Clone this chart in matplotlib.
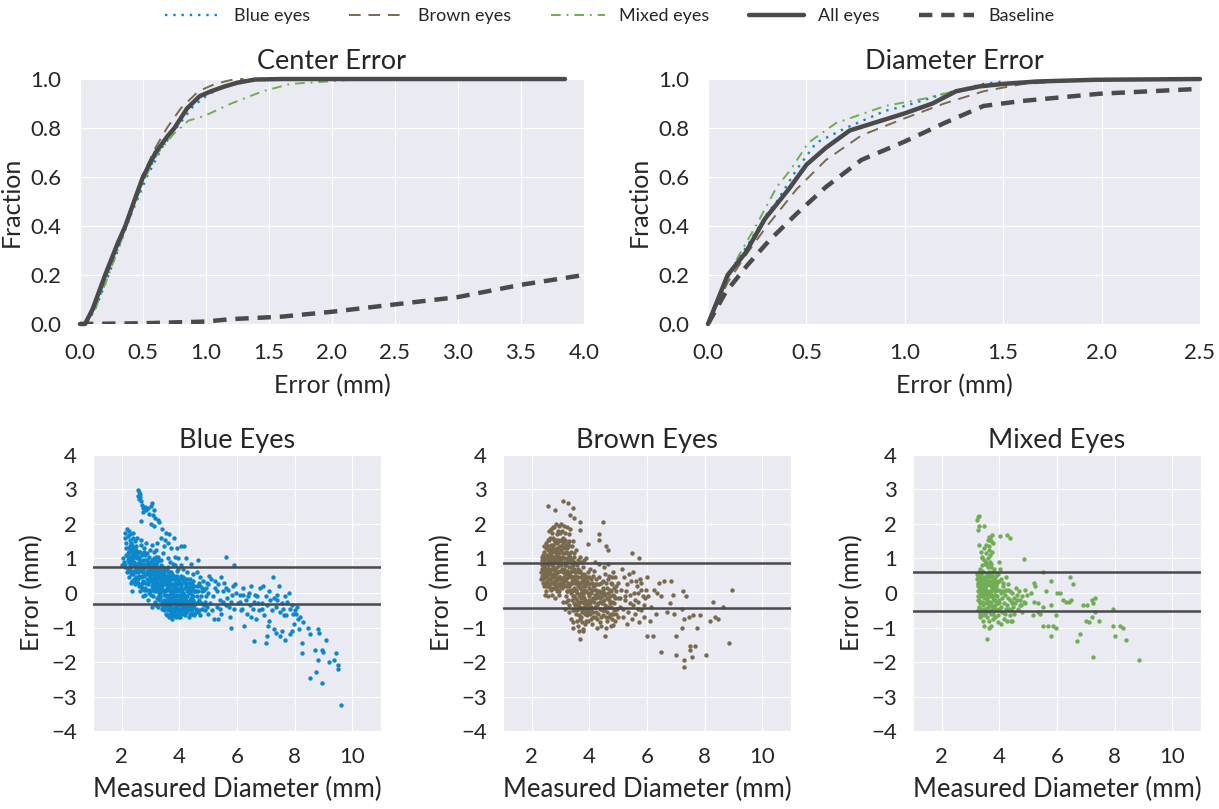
"""Eye tracking error: CDFs of center / diameter error and Bland-Altman style scatter per eye colour.
"""
import numpy as np
import matplotlib
matplotlib.use('Agg')
import matplotlib.pyplot as plt
import seaborn as sns

# cumulative curves, center error
center_all_x = [0.0, 0.04, 0.1, 0.2, 0.3, 0.36, 0.45, 0.5, 0.6, 0.7, 0.75, 0.85, 0.95, 1.04, 1.15, 1.25, 1.39, 1.6, 3.85]
center_all_y = [0.0, 0.0, 0.06, 0.2, 0.33, 0.4, 0.53, 0.6, 0.7, 0.77, 0.8, 0.88, 0.93, 0.95, 0.97, 0.985, 0.998, 1.0, 1.0]
center_blue_x = [0.0, 0.05, 0.12, 0.22, 0.32, 0.4, 0.53, 0.65, 0.78, 0.9, 1.0, 1.1, 1.25, 1.4, 1.6]
center_blue_y = [0.0, 0.0, 0.06, 0.19, 0.33, 0.44, 0.6, 0.72, 0.81, 0.89, 0.93, 0.96, 0.985, 0.997, 1.0]
center_brown_x = [0.0, 0.05, 0.12, 0.22, 0.32, 0.4, 0.5, 0.6, 0.69, 0.8, 0.94, 1.05, 1.15, 1.23, 1.3]
center_brown_y = [0.0, 0.0, 0.07, 0.21, 0.35, 0.46, 0.61, 0.72, 0.8, 0.88, 0.95, 0.975, 0.99, 1.0, 1.0]
center_mixed_x = [0.0, 0.05, 0.12, 0.22, 0.32, 0.4, 0.5, 0.62, 0.75, 0.82, 0.86, 0.99, 1.2, 1.45, 1.67, 1.96, 2.24]
center_mixed_y = [0.0, 0.0, 0.06, 0.19, 0.33, 0.44, 0.58, 0.7, 0.78, 0.81, 0.83, 0.85, 0.9, 0.95, 0.98, 0.99, 1.0]
center_base_x = [0.0, 0.5, 1.0, 1.2, 1.6, 2.0, 2.5, 3.0, 3.5, 4.0, 4.1]
center_base_y = [0.0, 0.003, 0.01, 0.02, 0.03, 0.05, 0.08, 0.11, 0.16, 0.2, 0.21]

# cumulative curves, diameter error
diam_all_x = [0.0, 0.1, 0.19, 0.29, 0.41, 0.5, 0.6, 0.72, 0.88, 1.0, 1.14, 1.26, 1.38, 1.5, 1.67, 1.97, 2.5]
diam_all_y = [0.0, 0.2, 0.29, 0.43, 0.55, 0.65, 0.72, 0.79, 0.83, 0.86, 0.9, 0.95, 0.97, 0.98, 0.99, 0.997, 1.0]
diam_blue_x = [0.0, 0.1, 0.2, 0.3, 0.35, 0.45, 0.55, 0.7, 0.9, 1.0, 1.2, 1.4, 1.5]
diam_blue_y = [0.0, 0.2, 0.32, 0.45, 0.5, 0.63, 0.74, 0.8, 0.87, 0.89, 0.94, 0.98, 0.99]
diam_brown_x = [0.0, 0.1, 0.2, 0.29, 0.45, 0.6, 0.78, 1.0, 1.2, 1.4, 1.6, 1.8, 2.0]
diam_brown_y = [0.0, 0.17, 0.29, 0.39, 0.55, 0.67, 0.77, 0.84, 0.9, 0.95, 0.98, 0.99, 1.0]
diam_mixed_x = [0.0, 0.05, 0.15, 0.25, 0.35, 0.42, 0.51, 0.65, 0.9, 1.1, 1.3, 1.45]
diam_mixed_y = [0.0, 0.1, 0.27, 0.41, 0.56, 0.63, 0.74, 0.82, 0.89, 0.92, 0.96, 0.98]
diam_base_x = [0.0, 0.09, 0.2, 0.31, 0.45, 0.6, 0.78, 1.0, 1.2, 1.4, 1.59, 1.99, 2.5]
diam_base_y = [0.0, 0.13, 0.24, 0.34, 0.45, 0.56, 0.67, 0.745, 0.82, 0.89, 0.91, 0.94, 0.96]

# scatter points (measured diameter, error)
blue_pts = """
2.55 2.98 2.58 2.92 2.62 2.88 2.57 2.82 2.63 2.78 2.60 2.72 2.66 2.68 2.70 2.55 2.75 2.45 2.72 2.35
2.80 2.50 2.85 2.40 2.92 2.45 3.00 2.52 3.05 2.62 2.95 2.30 3.10 2.40 3.08 2.25 3.15 2.18 3.25 2.12
3.30 2.05 2.65 2.10 3.00 2.00 3.12 1.95 3.40 1.85 3.55 1.75 3.65 1.70 3.80 1.60 4.05 1.35 3.50 1.55
3.35 1.60 3.60 1.45 3.90 1.30
2.05 1.00 2.10 1.60 2.12 1.75 2.18 1.85 2.15 1.45 2.20 1.65 2.22 1.30 2.25 1.80 2.28 1.55 2.30 1.70
2.35 1.40 2.38 1.60 2.40 1.75 2.45 1.50 2.48 1.25 2.08 0.90 2.12 0.75 2.15 1.10 2.18 0.60 2.20 0.95
2.25 0.45 2.28 1.05 2.30 0.80 2.32 0.30 2.35 0.05 2.38 1.15 2.40 0.55 2.42 0.90 2.45 0.25 2.48 0.70
2.50 1.35 2.02 0.80 2.10 0.85 2.22 1.15 2.36 0.95 2.44 1.05 2.27 0.65 2.33 1.25 2.16 1.30 2.41 0.40
2.52 1.00 2.55 0.60 2.58 1.20 2.60 0.20 2.62 0.85 2.65 1.40 2.68 0.45 2.70 1.10 2.72 -0.10 2.75 0.70
2.78 1.30 2.80 0.30 2.82 0.95 2.85 0.10 2.88 1.15 2.90 0.55 2.92 -0.20 2.95 0.80 2.98 1.25 2.55 0.30
2.63 0.05 2.70 0.75 2.77 0.50 2.84 1.45 2.90 0.25 2.96 0.40 2.53 1.60 2.66 1.55 2.74 0.95 2.86 0.65
2.99 0.05 2.58 0.90 2.80 -0.05 2.93 1.05 2.71 0.15 2.61 1.05 2.87 0.85 2.79 1.10 2.95 0.60 2.67 0.65
3.02 0.90 3.05 0.40 3.08 -0.10 3.10 1.20 3.12 0.65 3.15 0.15 3.18 -0.35 3.20 0.85 3.22 0.30 3.25 1.05
3.28 -0.20 3.30 0.55 3.32 0.00 3.35 0.80 3.38 -0.45 3.40 0.35 3.42 1.15 3.45 -0.05 3.48 0.60 3.50 -0.30
3.03 0.10 3.07 0.70 3.13 1.00 3.17 0.45 3.21 -0.15 3.26 0.70 3.31 0.20 3.36 0.50 3.41 -0.25 3.46 0.25
3.04 1.40 3.14 -0.25 3.24 0.05 3.34 -0.10 3.44 0.75 3.09 0.25 3.19 0.60 3.29 0.40 3.39 0.10 3.49 0.05
3.06 -0.40 3.16 0.95 3.27 -0.40 3.37 0.95 3.47 -0.50 3.11 0.50 3.23 0.50 3.33 0.65 3.43 0.45 3.00 0.35
3.18 1.25 3.28 0.95 3.45 1.35 3.22 1.45
3.52 0.50 3.55 -0.60 3.58 0.15 3.60 -0.20 3.62 0.75 3.65 -0.45 3.68 0.30 3.70 -0.70 3.72 0.00 3.75 0.55
3.78 -0.30 3.80 0.20 3.82 -0.55 3.85 0.40 3.88 -0.10 3.90 0.65 3.92 -0.65 3.95 0.10 3.98 -0.35 4.00 0.30
3.53 -0.05 3.57 0.40 3.61 -0.35 3.64 0.10 3.67 0.60 3.71 -0.15 3.74 -0.55 3.77 0.25 3.81 0.50 3.84 -0.20
3.87 0.05 3.91 -0.40 3.94 0.35 3.97 -0.05 3.54 0.25 3.59 -0.50 3.63 0.45 3.69 -0.30 3.73 0.40 3.79 0.00
3.83 -0.40 3.89 0.25 3.93 0.50 3.99 -0.55 3.56 0.70 3.66 0.90 3.76 0.85 3.86 0.80 3.96 0.70 3.58 -0.25
3.68 -0.60 3.78 -0.65 3.88 -0.70 3.98 -0.70 3.51 0.10 3.62 0.20 3.72 0.20 3.82 0.10 3.92 0.15 3.60 1.00
3.85 1.05 3.70 1.30 3.95 1.00 3.75 -0.75
4.02 -0.20 4.05 0.50 4.08 -0.60 4.10 0.10 4.12 -0.40 4.15 0.35 4.18 -0.10 4.20 -0.65 4.22 0.20 4.25 -0.30
4.28 0.60 4.30 -0.50 4.32 0.00 4.35 -0.20 4.38 0.40 4.40 -0.60 4.42 -0.05 4.45 0.25 4.48 -0.40 4.50 0.05
4.04 0.20 4.09 -0.05 4.14 0.70 4.19 0.15 4.24 -0.55 4.29 0.10 4.34 -0.45 4.39 0.20 4.44 -0.25 4.49 -0.60
4.06 -0.35 4.16 -0.50 4.26 0.40 4.36 0.30 4.46 0.55 4.11 0.45 4.21 -0.15 4.31 0.30 4.41 -0.35 4.07 0.80
4.22 1.00 4.40 0.85 4.15 1.35 4.01 -0.70 4.33 -0.70
4.55 -0.30 4.60 0.20 4.65 -0.55 4.70 0.45 4.75 -0.10 4.80 -0.45 4.85 0.10 4.90 -0.25 4.95 0.30 5.00 -0.60
4.58 0.05 4.68 -0.20 4.78 0.15 4.88 -0.50 4.98 0.00 4.62 0.60 4.72 -0.65 4.82 0.35 4.92 -0.10 4.66 0.95
4.52 -0.65 4.98 0.25
5.05 -0.30 5.10 0.40 5.15 -0.10 5.20 -0.75 5.25 0.15 5.30 -0.40 5.35 0.25 5.40 -0.20 5.45 -0.60 5.50 0.05
5.55 0.30 5.60 -0.35 5.65 -0.15 5.70 0.10 5.75 -0.70 5.80 -0.25 5.85 0.20 5.90 -0.45 5.95 0.00 5.12 -0.50
5.22 0.35 5.32 0.05 5.42 -0.45 5.52 -0.25 5.62 0.15 5.72 -0.40 5.82 -0.05 5.92 0.25 5.60 1.05 5.90 0.80
5.03 0.50 5.45 0.45 5.78 -1.00 5.35 -0.75
6.05 -0.30 6.10 -0.05 6.15 -0.50 6.20 0.15 6.25 -0.95 6.30 -0.20 6.35 -0.60 6.40 0.00 6.45 -0.35 6.50 0.20
6.55 -0.45 6.60 -0.25 6.65 -0.75 6.70 -0.10 6.75 -0.50 6.80 0.15 6.85 -0.30 6.90 0.20 6.95 -0.65 7.00 -0.10
7.05 -0.35 7.10 0.05 7.15 -0.20 7.20 -0.50 7.25 0.45 7.30 -0.15 7.35 -0.40 7.40 -0.20 7.45 0.20 7.50 -0.55
7.55 -0.30 7.60 -0.45 7.65 -0.10 7.70 -0.65 7.75 -0.25 7.80 0.00 7.85 -0.45 7.92 -0.35 7.95 -0.60 6.12 -0.25
6.38 -0.10 6.62 -0.05 6.88 -0.45 7.12 -0.80 7.38 -0.05 7.62 -0.65 6.22 -0.05 6.48 -0.70 7.08 -0.95 7.28 -1.05
6.60 -1.40 7.00 -1.45 7.05 -1.25 7.35 -1.15 7.55 -1.10 7.65 -1.35 7.50 -1.25 7.85 -1.20 7.90 -1.10 6.18 -0.45
6.72 -0.30
8.00 -0.50 8.05 -0.60 8.10 -0.75 8.20 -0.70 8.30 -0.85 8.45 -1.00 8.15 -1.05 8.55 -1.20 8.80 -1.05 8.85 -1.15
9.10 -1.35 8.25 -1.45 8.70 -1.65 8.95 -1.65 9.00 -1.70 8.25 -1.75 8.80 -1.95 9.20 -2.00 9.35 -1.95 9.45 -1.75
9.50 -2.10 9.50 -2.20 8.55 -2.45 8.75 -2.30 8.95 -2.60 9.60 -3.25 7.98 -0.90 8.08 -0.40
2.24 0.90 2.26 1.20 2.29 0.70 2.31 1.45 2.34 0.60 2.37 0.85 2.39 1.30 2.43 0.65 2.46 1.10 2.49 0.45
2.51 0.80 2.54 1.15 2.57 0.40 2.59 0.70 2.64 0.95 2.69 0.30 2.73 0.60 2.76 1.20 2.81 0.15 2.83 0.75
2.88 0.40 2.91 0.90 2.94 0.10 2.97 0.70 3.01 0.55 3.04 0.95 3.06 0.20 3.09 0.80 3.12 0.30 3.14 0.55
3.17 0.05 3.19 0.35 3.21 0.75 3.24 0.25 3.27 0.15 3.29 -0.05 3.32 0.45 3.34 0.30 3.37 0.20 3.39 0.70
3.42 0.55 3.44 0.05 3.47 0.35 3.50 0.70 3.52 -0.20 3.55 0.30 3.57 -0.10 3.60 0.50 3.63 -0.05 3.65 0.35
3.67 -0.20 3.70 0.45 3.72 -0.40 3.75 0.10 3.77 -0.20 3.80 0.40 3.83 -0.10 3.85 0.15 3.88 -0.50 3.90 0.40
3.93 -0.20 3.95 -0.45 3.98 0.10 4.00 -0.10 4.03 0.05 4.06 -0.15 4.09 0.30 4.12 -0.20 4.14 0.00 4.17 -0.30
4.19 0.40 4.22 -0.40 4.25 0.05 4.27 -0.10 4.30 0.15 4.33 -0.35 4.36 0.05 4.39 -0.15 4.42 0.15 4.45 -0.50
4.48 -0.10 4.52 0.20 4.56 -0.45 4.60 -0.10 4.64 0.05 4.68 -0.50 4.72 0.20 4.76 -0.30 4.80 0.05 4.86 -0.35
4.92 0.15 4.96 -0.40 3.35 0.60 3.28 0.65 3.20 1.05 3.10 0.05 3.45 -0.20 3.56 -0.35 3.66 0.20 3.79 -0.45
3.58 -0.65 3.64 -0.70 3.84 -0.65 3.94 -0.60 4.10 -0.50 4.26 -0.45 4.37 -0.60 4.47 -0.20 3.48 -0.40 3.40 -0.35
2.21 1.05 2.23 0.70 2.26 0.95 2.29 1.35 2.31 0.55 2.34 1.10 2.37 0.35 2.39 1.00 2.42 1.20 2.45 0.80
2.47 0.35 2.50 0.60 2.53 0.85 2.56 1.05 2.59 0.50 2.62 1.20 2.65 0.70 2.67 0.20 2.70 0.50 2.73 0.85
2.75 0.35 2.78 0.10 2.80 0.80 2.83 0.55 2.86 0.30 2.89 0.95 2.92 0.30 2.95 0.00 2.97 0.50 3.00 0.75
3.02 -0.05 3.05 0.60 3.08 0.40 3.11 0.85 3.13 0.15 3.16 0.70 3.18 0.20 3.21 0.40 3.23 0.90 3.26 0.10
3.29 0.60 3.31 -0.15 3.34 0.45 3.36 0.15 3.39 0.55 3.41 0.20 3.44 0.40 3.46 -0.30 3.49 0.50 3.52 0.30
3.54 -0.40 3.57 0.10 3.59 0.60 3.62 -0.10 3.64 0.40 3.67 -0.50 3.69 0.10 3.71 0.60 3.74 -0.25 3.76 0.45
3.79 -0.10 3.81 -0.55 3.84 0.30 3.86 -0.30 3.89 0.45 3.91 -0.05 3.94 -0.30 3.96 0.25 3.99 -0.20 4.02 0.40
4.04 -0.45 4.07 0.15 4.10 -0.30 4.13 0.40 4.16 -0.05 4.18 -0.55 4.21 0.30 4.24 -0.20 4.27 -0.50 4.31 -0.25
4.34 0.15 4.38 -0.40 4.41 0.05 4.44 -0.60 4.47 0.35 4.51 -0.35 4.55 0.05 4.59 -0.55 4.63 -0.25 4.67 0.30
"""

brown_pts = """
2.56 2.53 3.10 2.67 3.25 2.60 3.43 2.46 2.79 2.41 3.33 2.26 3.46 2.17 3.66 2.07 4.49 2.07 4.33 1.70
3.66 1.83 3.95 1.41 4.59 1.37 4.35 1.53 5.49 1.15 5.74 1.00 4.66 1.24 3.43 -1.02 3.66 -1.33 3.77 -1.09
4.55 -1.25 4.82 -0.94
2.32 0.60 2.35 0.95 2.38 0.30 2.40 1.10 2.42 0.75 2.45 0.45 2.48 1.30 2.50 0.05 2.52 0.85 2.55 1.55
2.58 0.20 2.60 1.00 2.34 0.80 2.37 0.50 2.41 0.20 2.44 1.20 2.47 0.65 2.51 1.45 2.54 0.35 2.57 0.95
2.59 1.80 2.36 1.05 2.43 0.95 2.49 0.55 2.53 1.10 2.56 -0.10 2.39 0.65 2.46 -0.05 2.58 1.35 2.33 0.40
2.55 0.70
2.62 0.40 2.64 1.60 2.66 0.10 2.68 1.25 2.70 0.70 2.72 1.90 2.74 0.30 2.76 1.05 2.78 0.55 2.80 1.45
2.82 -0.15 2.84 0.90 2.86 1.70 2.88 0.20 2.90 1.20 2.92 0.60 2.94 1.95 2.96 -0.05 2.98 1.00 3.00 0.40
2.63 0.85 2.65 1.15 2.67 0.55 2.69 1.75 2.71 -0.05 2.73 1.40 2.75 0.85 2.77 0.15 2.79 1.20 2.81 0.70
2.83 1.55 2.85 0.35 2.87 1.10 2.89 0.75 2.91 1.55 2.93 0.05 2.95 0.80 2.97 1.35 2.99 0.65 2.61 1.30
2.65 0.25 2.70 1.00 2.74 1.60 2.78 0.95 2.82 0.45 2.86 1.30 2.90 0.95 2.94 0.45 2.98 1.75 2.66 1.85
2.76 1.90 2.84 2.00 2.92 1.80 2.68 0.95 2.72 0.50 2.80 1.05 2.88 1.45 2.96 1.15 2.64 0.65 2.84 0.15
3.02 1.25 3.04 0.15 3.06 1.80 3.08 0.60 3.10 -0.25 3.12 1.00 3.14 0.35 3.16 1.55 3.18 -0.10 3.20 0.80
3.22 1.30 3.24 0.05 3.26 0.55 3.28 1.70 3.30 -0.35 3.32 0.95 3.34 0.25 3.36 1.20 3.38 -0.20 3.40 0.65
3.42 1.50 3.44 -0.50 3.46 0.40 3.48 0.90 3.50 -0.15 3.03 0.80 3.07 1.45 3.11 0.45 3.15 1.15 3.19 0.60
3.23 1.90 3.27 0.30 3.31 1.10 3.35 0.50 3.39 1.35 3.43 0.10 3.47 -0.30 3.05 0.40 3.09 1.15 3.13 1.95
3.17 0.90 3.21 0.20 3.25 1.15 3.29 0.75 3.33 1.85 3.37 0.00 3.41 0.95 3.45 0.70 3.49 0.30 3.01 2.00
3.16 -0.45 3.28 -0.55 3.36 -0.75 3.44 -0.85 3.12 0.70 3.26 0.95 3.38 0.35 3.48 1.15 3.08 1.00
3.52 0.45 3.54 -0.60 3.56 0.80 3.58 -0.20 3.60 0.20 3.62 -0.95 3.64 0.60 3.66 -0.40 3.68 1.05 3.70 0.00
3.72 -0.70 3.74 0.35 3.76 -0.25 3.78 0.75 3.80 -0.55 3.82 0.10 3.84 -0.90 3.86 0.50 3.88 -0.35 3.90 0.25
3.92 -0.65 3.94 0.00 3.96 0.60 3.98 -0.45 4.00 0.15 3.53 0.05 3.57 -0.50 3.61 0.45 3.65 -0.10 3.69 0.30
3.73 -0.45 3.77 0.20 3.81 -0.15 3.85 -0.60 3.89 0.05 3.93 0.35 3.97 -0.20 3.55 1.25 3.63 -1.10 3.71 0.90
3.79 -1.05 3.87 1.00 3.95 -0.80 3.59 0.95 3.67 0.65 3.75 -0.85 3.83 0.40 3.91 -0.25 3.99 0.45 3.51 -0.35
3.69 -0.75 3.81 0.95 3.58 0.60 3.74 0.05 3.86 -0.20
4.04 -0.50 4.08 0.30 4.12 -0.15 4.16 0.65 4.20 -0.70 4.24 0.10 4.28 -0.35 4.32 0.45 4.36 -0.85 4.40 0.00
4.44 -0.50 4.48 0.35 4.52 -0.20 4.56 -0.70 4.60 0.15 4.64 -0.40 4.68 0.50 4.72 -0.10 4.76 -0.60 4.80 0.25
4.84 -0.30 4.88 -0.80 4.92 0.05 4.96 -0.45 5.00 0.30 4.06 0.00 4.14 -0.55 4.22 0.40 4.30 -0.10 4.38 -0.45
4.46 0.10 4.54 0.55 4.62 -0.15 4.70 -0.65 4.78 -0.25 4.86 0.15 4.94 -0.60 4.02 0.70 4.18 0.90 4.34 0.85
4.50 0.75 4.66 0.85 4.82 0.60 4.10 -0.90 4.26 -1.00 4.42 -0.95 4.58 -1.00 4.74 -0.95 4.98 -0.15 4.90 0.45
4.15 0.20 4.45 -0.25 4.75 0.05
5.05 -0.40 5.10 0.10 5.15 -0.70 5.20 0.45 5.25 -0.20 5.30 0.25 5.35 -0.55 5.40 -0.05 5.45 0.35 5.50 -0.35
5.55 0.00 5.60 -0.60 5.65 0.20 5.70 -0.25 5.75 0.40 5.80 -0.50 5.85 -0.10 5.90 -0.70 5.95 0.10 5.08 -0.15
5.18 -0.45 5.28 0.05 5.38 0.55 5.48 -0.75 5.58 -0.20 5.68 -0.45 5.78 0.10 5.88 -0.35 5.12 0.70 5.32 -0.90
5.52 0.60 5.72 -0.85 5.92 -0.15 5.22 -0.10 5.42 -0.30 5.62 0.35
6.00 -1.25 6.20 -1.25 6.50 -1.70 7.00 -1.80 7.30 -2.15 7.30 -1.95 7.50 -1.55 7.50 -1.65 7.55 -1.85 7.65 -1.55
8.05 -1.80 8.85 -1.45 8.95 0.10 8.65 -0.40 8.30 -0.25 8.20 -0.80 8.35 -0.70 8.45 -0.75 7.85 -0.65 7.60 -0.65
7.75 -1.00 7.45 -0.70 7.30 -0.75 7.20 -1.00 7.00 -1.25 7.20 -0.45 7.35 -0.10 7.25 0.05 6.80 -0.30 6.90 -0.05
6.95 -0.60 6.60 0.35 6.85 0.35 6.40 0.30 6.50 -0.10 6.30 -0.60 6.10 -0.80 6.00 0.45 5.80 0.30 5.70 0.00
6.15 -0.40 6.35 0.00 6.70 -0.55 6.05 -0.10 6.25 0.10
2.36 0.70 2.40 0.40 2.44 0.85 2.48 0.20 2.52 0.60 2.56 1.25 2.60 0.55 2.63 1.05 2.67 0.30 2.71 1.20
2.74 0.75 2.78 1.55 2.81 0.25 2.85 1.20 2.88 0.60 2.92 1.30 2.95 0.25 2.99 0.90 3.02 1.55 3.05 0.70
3.09 0.35 3.13 1.30 3.17 0.20 3.21 1.00 3.25 0.45 3.29 1.35 3.33 0.10 3.37 0.75 3.41 0.30 3.45 1.05
3.49 0.60 2.42 1.35 2.50 1.00 2.58 0.80 2.66 1.40 2.74 1.00 2.82 1.25 2.90 0.40 2.98 0.45 3.06 1.05
3.14 0.80 3.22 0.65 3.30 0.50 3.38 0.95 3.46 0.15 2.54 0.45 2.62 0.15 2.70 0.45 2.78 0.35 2.86 0.05
2.94 1.05 3.02 0.25 3.10 1.60 3.18 1.40 3.26 -0.20 3.34 0.60 3.42 -0.10 3.50 0.50 3.54 0.10 3.58 0.35
3.62 -0.30 3.66 0.15 3.70 -0.45 3.74 0.55 3.78 -0.05 3.82 -0.40 3.86 0.20 3.90 -0.55 3.94 0.30 3.98 -0.10
4.02 -0.30 4.06 0.40 4.10 -0.20 4.14 0.10 4.18 -0.40 4.22 -0.15 4.26 0.25 4.30 -0.60 4.34 0.05 4.38 -0.25
4.42 0.30 4.46 -0.65 4.50 0.00 4.54 -0.35 4.58 0.30 4.62 -0.55 4.66 0.00 4.70 -0.30 4.74 0.30 4.78 -0.75
4.82 -0.05 4.86 -0.50 4.90 -0.15 4.94 0.20 4.98 -0.70 3.56 -0.80 3.64 -0.65 3.72 -0.15 3.80 0.30 3.88 -0.80
3.96 -0.55 4.04 -0.75 4.12 0.50 4.20 -0.05 4.28 -0.75 4.36 -0.15 4.44 -0.10 4.52 -0.50 4.60 -0.80 4.68 -0.20
2.38 0.85 2.41 0.55 2.44 0.30 2.47 1.00 2.50 0.70 2.53 0.25 2.56 0.90 2.59 1.55 2.61 0.70 2.64 0.40
2.67 1.10 2.69 0.85 2.72 0.15 2.75 1.30 2.77 0.70 2.80 0.90 2.83 1.05 2.85 0.55 2.88 1.00 2.90 0.10
2.93 0.85 2.96 1.50 2.98 0.30 3.01 0.95 3.04 1.35 3.07 0.25 3.09 0.65 3.12 1.50 3.15 0.55 3.18 1.20
3.20 0.40 3.23 0.05 3.26 1.45 3.29 0.55 3.31 0.20 3.34 1.05 3.37 0.45 3.40 0.05 3.43 0.80 3.46 -0.10
3.48 0.45 3.53 0.30 3.56 0.00 3.59 -0.35 3.62 0.70 3.65 0.25 3.68 -0.25 3.71 0.45 3.74 -0.55 3.77 0.00
3.80 0.55 3.83 -0.30 3.86 0.05 3.89 -0.50 3.92 0.45 3.95 -0.35 3.98 0.25 4.01 -0.60 4.04 0.10 4.07 -0.40
4.11 0.20 4.14 -0.70 4.17 -0.25 4.21 0.25 4.24 -0.55 4.27 0.00 4.31 -0.30 4.35 0.25 4.39 -0.70 4.43 -0.30
4.47 0.15 4.51 -0.50 4.55 -0.05 4.59 -0.40 4.63 0.40 4.67 -0.70 4.71 0.10 4.75 -0.40 4.79 0.45 4.83 -0.60
4.87 -0.10 4.91 -0.45 2.45 0.60 2.62 0.95 2.80 0.60 2.97 0.20 3.14 1.75 3.31 1.50 3.48 -0.50 3.20 -0.25
"""

mixed_pts = """
3.26 2.21 3.30 2.24 3.22 2.12 3.28 1.95 3.48 1.95 3.26 1.83 3.74 1.68 3.63 1.63 4.03 1.66 4.27 1.68
4.35 1.58 4.85 0.98 4.44 -0.80
3.22 0.40 3.24 -0.10 3.26 0.20 3.28 -0.40 3.30 0.60 3.32 0.00 3.34 -0.60 3.36 0.30 3.38 -0.25 3.40 0.80
3.42 0.10 3.44 -0.80 3.46 0.45 3.48 -0.15 3.50 0.25 3.25 0.05 3.29 0.35 3.33 -0.30 3.37 0.55 3.41 -0.50
3.45 0.15 3.49 -0.45 3.27 -0.20 3.31 0.15 3.35 0.00 3.39 0.40 3.43 -0.05 3.47 -0.95 3.23 0.55 3.35 1.20
3.30 1.40 3.38 1.00 3.45 1.30 3.57 -1.33 3.48 0.95
3.52 0.10 3.54 -0.55 3.56 0.45 3.58 -0.20 3.60 0.75 3.62 -0.80 3.64 0.25 3.66 -0.35 3.68 1.10 3.70 0.05
3.72 -0.60 3.74 0.50 3.76 -0.15 3.78 0.30 3.80 -0.45 3.82 0.70 3.84 -0.05 3.86 -0.70 3.88 0.20 3.90 -0.30
3.53 0.35 3.57 -0.05 3.61 0.05 3.65 0.60 3.69 -0.50 3.73 0.15 3.77 -0.40 3.81 0.40 3.85 -0.20 3.89 0.50
3.55 1.40 3.60 1.55 3.65 1.25 3.70 1.50 3.75 1.20 3.62 -1.00 3.70 -0.95 3.58 -0.70 3.66 0.90 3.72 0.85
3.63 -0.25 3.79 -0.75 3.55 0.90
3.92 0.10 3.95 -0.50 3.98 0.35 4.00 -0.20 4.02 0.70 4.05 -0.40 4.08 0.05 4.10 -0.55 4.12 0.20 4.15 -0.30
4.18 -0.05 4.20 -0.60 4.22 0.10 4.25 -0.35 4.28 -0.15 4.30 0.25 4.32 -0.45 4.35 -0.20 4.38 0.05 4.40 -0.50
4.42 -0.25 4.45 0.00 4.48 -0.40 4.50 -0.15 3.96 -0.85 4.06 -0.90 4.16 -0.75 4.26 -0.80 4.36 -0.65 3.94 0.55
4.04 0.40 4.14 0.30 4.24 0.45 3.97 0.90 4.55 -0.30 4.60 -0.05 4.65 -0.45 4.70 -0.20 4.75 -0.35 4.85 -0.25
4.95 -0.05 4.52 -0.60 4.58 0.15 4.68 0.05 4.78 -0.55 4.88 0.10 4.40 -0.80
5.20 0.30 5.25 0.20 5.50 0.60 5.80 0.35 6.45 0.45 6.55 0.25 5.10 0.00 5.60 0.05 5.80 -0.35 5.95 -0.65
5.70 -0.95 5.50 -0.95 5.95 -1.00 5.85 -0.95 5.80 -1.25 6.70 -1.40 6.80 -1.20 7.25 -1.85 8.85 -1.95 8.40 -1.35
8.30 -1.00 8.20 -0.95 7.95 -0.95 8.00 -1.25 7.95 -0.45 7.30 -0.55 7.20 -0.70 7.25 -0.30 7.30 -0.15 7.20 -0.20
7.05 -0.35 6.90 -0.35 7.45 -0.80 7.00 -0.80 7.10 -0.85 6.20 -0.20 6.30 -0.25 6.40 -0.25 6.50 -0.20 6.00 0.00
6.10 0.00 5.50 -0.40 5.35 -0.30 5.20 -0.25 5.35 -0.55 5.40 -0.60 5.15 -0.65 4.90 -0.30 4.80 -0.10 4.60 -0.20
4.70 -0.35 4.45 -0.30
3.24 0.25 3.27 0.50 3.30 -0.20 3.33 0.20 3.36 -0.45 3.39 0.15 3.42 -0.35 3.45 0.40 3.48 0.05 3.51 -0.30
3.54 0.20 3.57 0.55 3.60 -0.40 3.63 0.00 3.66 -0.55 3.69 0.20 3.72 -0.25 3.75 0.30 3.78 -0.55 3.81 0.10
3.84 -0.35 3.87 0.35 3.26 -0.50 3.32 0.70 3.38 0.65 3.44 0.25 3.50 -0.60 3.56 -0.15 3.62 0.35 3.68 0.45
3.74 -0.05 3.80 0.60 3.86 0.05 3.92 -0.10 3.98 -0.30 4.04 0.00 4.10 -0.15 4.16 0.05 4.22 -0.45 4.28 0.10
3.40 1.05 3.50 0.85 3.60 1.00 3.70 0.75 3.52 1.15 3.64 1.35 3.76 1.45 3.34 -0.70 3.46 -0.60 3.58 -0.50
3.25 0.30 3.28 0.10 3.31 -0.45 3.34 0.45 3.37 -0.10 3.40 0.30 3.43 -0.65 3.46 0.00 3.49 0.30 3.52 -0.45
3.55 0.05 3.58 0.25 3.61 -0.30 3.64 0.55 3.67 -0.10 3.70 -0.35 3.73 0.35 3.76 -0.60 3.79 0.15 3.82 -0.20
3.85 0.20 3.88 -0.45 3.91 0.30 3.94 -0.65 3.97 0.10 4.00 -0.45 3.42 0.60 3.58 0.80 3.75 0.60 3.66 1.60
"""

# limits of agreement lines per group
blue_limits = [0.76, -0.32]
brown_limits = [0.88, -0.43]
mixed_limits = [0.62, -0.53]

blue_c = '#0b87cb'
brown_c = '#7a6a4d'
green_c = '#70ad55'
dark_c = '#4a4a4a'

sns.set_style('darkgrid')
plt.rcParams['font.family'] = ['Lato', 'DejaVu Sans']
plt.rcParams['text.color'] = '#262626'
plt.rcParams['axes.labelcolor'] = '#262626'
plt.rcParams['xtick.color'] = '#262626'
plt.rcParams['ytick.color'] = '#262626'


def parse(pts):
    arr = np.array(pts.split(), dtype=float).reshape(-1, 2)
    return arr[:, 0], arr[:, 1]


fig = plt.figure(figsize=(12.19, 8.09), dpi=100)

ax1 = fig.add_axes([0.0656, 0.5995, 0.4134, 0.3028])
ax2 = fig.add_axes([0.5808, 0.5995, 0.4036, 0.3028])

for ax, groups, base, xmax, ticks in [
        (ax1, [(center_blue_x, center_blue_y), (center_brown_x, center_brown_y),
               (center_mixed_x, center_mixed_y), (center_all_x, center_all_y)],
         (center_base_x, center_base_y), 4.0, np.arange(0, 4.01, 0.5)),
        (ax2, [(diam_blue_x, diam_blue_y), (diam_brown_x, diam_brown_y),
               (diam_mixed_x, diam_mixed_y), (diam_all_x, diam_all_y)],
         (diam_base_x, diam_base_y), 2.5, np.arange(0, 2.51, 0.5))]:
    ax.plot(groups[0][0], groups[0][1], color=blue_c, ls=(0, (1, 2.5)), lw=1.7, label='Blue eyes', clip_on=False, zorder=3)
    ax.plot(groups[1][0], groups[1][1], color=brown_c, ls=(0, (6, 4)), lw=1.4, label='Brown eyes', clip_on=False, zorder=3)
    ax.plot(groups[2][0], groups[2][1], color=green_c, ls=(0, (5, 3, 1, 3)), lw=1.4, label='Mixed eyes', clip_on=False, zorder=3)
    ax.plot(groups[3][0], groups[3][1], color=dark_c, ls='-', lw=3.2, label='All eyes', clip_on=False, zorder=4)
    ax.plot(base[0], base[1], color=dark_c, ls=(0, (3, 2)), lw=3.2, label='Baseline', zorder=3)
    ax.set_xlim(0, xmax)
    ax.set_ylim(0, 1)
    ax.set_xticks(ticks)
    ax.set_xticklabels(['%.1f' % t for t in ticks])
    ax.set_yticks(np.arange(0, 1.01, 0.2))
    ax.set_yticklabels(['%.1f' % t for t in np.arange(0, 1.01, 0.2)])
    ax.tick_params(labelsize=16, pad=10)
    ax.set_xlabel('Error (mm)', fontsize=18, labelpad=8)
    ax.set_ylabel('Fraction', fontsize=18, labelpad=5)

ax1.set_title('Center Error', fontsize=19.5, pad=7)
ax2.set_title('Diameter Error', fontsize=19.5, pad=7)

handles, labels = ax1.get_legend_handles_labels()
fig.legend(handles, labels, loc='upper center', ncol=5, bbox_to_anchor=(0.5, 1.01),
           frameon=False, fontsize=13, handlelength=3.0, columnspacing=2.2)

lefts = [0.0763, 0.4126, 0.749]
for left, pts, color, limits, title in [
        (lefts[0], blue_pts, blue_c, blue_limits, 'Blue Eyes'),
        (lefts[1], brown_pts, brown_c, brown_limits, 'Brown Eyes'),
        (lefts[2], mixed_pts, green_c, mixed_limits, 'Mixed Eyes')]:
    ax = fig.add_axes([left, 0.0964, 0.2363, 0.3412])
    x, y = parse(pts)
    ax.scatter(x, y, s=10, color=color, linewidths=0, zorder=2)
    for lim in limits:
        ax.axhline(lim, color=dark_c, lw=1.8, zorder=3)
    ax.set_xlim(1, 11)
    ax.set_ylim(-4, 4)
    ax.set_xticks([2, 4, 6, 8, 10])
    ax.set_yticks(range(-4, 5))
    ax.set_yticklabels([('\u2212%d' % -v) if v < 0 else str(v) for v in range(-4, 5)])
    ax.tick_params(labelsize=16, pad=8)
    ax.set_xlabel('Measured Diameter (mm)', fontsize=18.5, labelpad=7)
    ax.set_ylabel('Error (mm)', fontsize=18, labelpad=6)
    ax.set_title(title, fontsize=19.5, pad=5)

fig.savefig('out.png', dpi=100)
